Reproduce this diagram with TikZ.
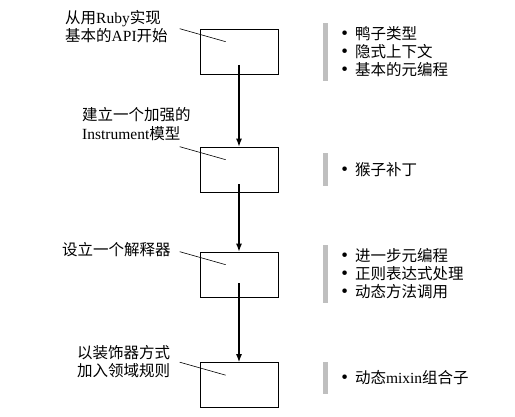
\documentclass[tikz,border=0pt]{standalone}
\usepackage{fontspec}
\setmainfont{Liberation Serif}
\newfontfamily\cjk{Noto Sans CJK SC}
\usepackage{xcolor}
\usepackage{tikz}
\usetikzlibrary{arrows.meta,positioning}

\newcommand{\dotitem}{{\fontsize{19}{18}\selectfont\textbullet}\hspace{7pt}}

\begin{document}
\begin{tikzpicture}[
    x=1pt, y=1pt,
    stage/.style={rectangle, draw, line width=0.6pt, minimum width=78pt, minimum height=45pt, inner sep=0pt},
    caption/.style={align=left, font=\fontsize{15.5}{18.5}\selectfont, inner sep=0pt},
    bar/.style={rectangle, fill=black!25, minimum width=5pt, inner sep=0pt},
    items/.style={align=left, font=\fontsize{15.5}{18}\selectfont, inner sep=0pt},
    leader/.style={line width=0.6pt},
    arrow/.style={-{Latex[length=8pt,width=6pt]}, line width=1.3pt}
]
\useasboundingbox (0,0) rectangle (515,417);

% Stages
\node[stage] (stage1) at (239,365.5) {};
\node[stage] (stage2) at (239,247.5) {};
\node[stage] (stage3) at (239,142.5) {};
\node[stage] (stage4) at (239,32) {};

% Captions on the left
\node[caption, anchor=west] (cap1) at (65,390.5) {{\cjk 从用}Ruby{\cjk 实现}\\{\cjk 基本的}API{\cjk 开始}};
\node[caption, anchor=west] (cap2) at (82,293) {{\cjk 建立一个加强的}\\Instrument{\cjk 模型}};
\node[caption, anchor=west] (cap3) at (62,167) {{\cjk 设立一个解释器}};
\node[caption, anchor=west] (cap4) at (77,55.5) {{\cjk 以装饰器方式}\\{\cjk 加入领域规则}};

% Leader lines
\foreach \i in {1,2,3,4} {
  \coordinate (from\i) at ([xshift=-20pt]stage\i.north west);
  \coordinate (to\i) at ([xshift=26pt,yshift=-13pt]stage\i.north west);
  \draw[leader] (from\i) -- (to\i);
}

% Flow
\coordinate (out1) at ([yshift=-13.5pt]stage1.center);
\coordinate (out2) at ([yshift=-15pt]stage2.center);
\coordinate (out3) at ([yshift=-9pt]stage3.center);
\draw[arrow] (out1) -- (stage2.north);
\draw[arrow] (out2) -- (stage3.north);
\draw[arrow] (out3) -- (stage4.north);

% Topics on the right
\node[bar, minimum height=58pt] (bar1) at (325.5,365) {};
\node[bar, minimum height=33pt] (bar2) at (325.5,247.5) {};
\node[bar, minimum height=58pt] (bar3) at (325.5,143) {};
\node[bar, minimum height=32pt] (bar4) at (325.5,39) {};

\node[items, anchor=west, right=13pt of bar1] (list1) {\dotitem{\cjk 鸭子类型}\\\dotitem{\cjk 隐式上下文}\\\dotitem{\cjk 基本的元编程}};
\node[items, anchor=west, right=13pt of bar2] (list2) {\dotitem{\cjk 猴子补丁}};
\node[items, anchor=west, right=13pt of bar3] (list3) {\dotitem{\cjk 进一步元编程}\\\dotitem{\cjk 正则表达式处理}\\\dotitem{\cjk 动态方法调用}};
\node[items, anchor=west, right=13pt of bar4] (list4) {\dotitem{\cjk 动态}mixin{\cjk 组合子}};

\end{tikzpicture}
\end{document}
